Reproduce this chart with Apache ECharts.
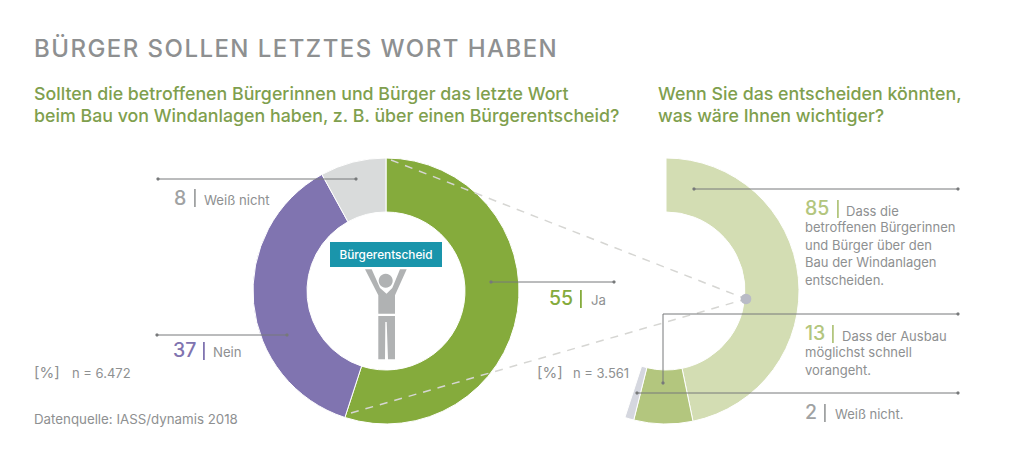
<!DOCTYPE html>
<html><head><meta charset="utf-8">
<style>html,body{margin:0;padding:0;background:#fff}#c{width:1024px;height:456px}
text[style*="24px"]{letter-spacing:1.45px}</style>
<script src="https://cdn.jsdelivr.net/npm/echarts@6/dist/echarts.min.js"></script></head>
<body><div id="c"></div>
<script>
var leftCategories = ['Ja', 'Nein', 'Weiß nicht'];
var leftValues = [55, 37, 8];
var rightCategories = ['Dass die betroffenen Bürgerinnen und Bürger über den Bau der Windanlagen entscheiden.', 'Dass der Ausbau möglichst schnell vorangeht.', 'Weiß nicht.'];
var rightValues = [85, 13, 2];
var leftColors = ['#85AB3C', '#8074B0', '#D9DBDB'];
var rightColors = ['#D3DDB3', '#B3C67E', '#D5D7DF'];
var FONT = 'Inter';
var GREY = '#8E9091', LINE = '#77797A', TXT = '#8E9091', HEAD = '#7F9F4E', PERSON = '#B0B2B3';

function t(x, y, text, size, color, weight) {
  return {type: 'text', z: 20, style: {x: x, y: y, text: text, fontSize: size, fill: color, fontFamily: FONT, fontWeight: weight || 400, textVerticalAlign: 'middle'}};
}
function line(pts) {
  var out = [{type: 'polyline', z: 15, shape: {points: pts}, style: {stroke: LINE, lineWidth: 1, fill: null}}];
  [pts[0], pts[pts.length - 1]].forEach(function (p) {
    out.push({type: 'circle', z: 15, shape: {cx: p[0], cy: p[1], r: 1.6}, style: {fill: LINE}});
  });
  return out;
}
function dash(a, b) {
  return {type: 'line', z: 12, shape: {x1: a[0], y1: a[1], x2: b[0], y2: b[1]}, style: {stroke: '#D6D6D3', lineWidth: 1.5, lineDash: [8, 7]}};
}
function bar(x, y, h, color) {
  return {type: 'rect', z: 20, shape: {x: x, y: y, width: 1.8, height: h}, style: {fill: color}};
}
function poly(pts) {
  return {type: 'polygon', z: 14, shape: {points: pts}, style: {fill: PERSON}};
}
var g = [
  t(34, 48.5, 'BÜRGER SOLLEN LETZTES WORT HABEN', 24, GREY, 500),
  t(34, 93.5, 'Sollten die betroffenen Bürgerinnen und Bürger das letzte Wort', 17.8, HEAD, 500),
  t(34, 115, 'beim Bau von Windanlagen haben, z. B. über einen Bürgerentscheid?', 17.8, HEAD, 500),
  t(658, 93.5, 'Wenn Sie das entscheiden könnten,', 17.8, HEAD, 500),
  t(658, 115, 'was wäre Ihnen wichtiger?', 17.8, HEAD, 500),
  dash([391, 160], [746, 299]),
  dash([351, 413], [746, 299]),
  {type: 'circle', z: 13, shape: {cx: 746, cy: 299, r: 5.3}, style: {fill: '#B9BBC6'}},
  t(174, 198, String(leftValues[2]), 19.5, '#A0A2A3', 500),
  bar(194, 189, 18, '#A0A2A3'),
  t(204, 199.5, leftCategories[2], 13.2, TXT),
  t(173, 350, String(leftValues[1]), 19.5, '#8074B0', 500),
  bar(203, 342, 18, '#8074B0'),
  t(213, 352, leftCategories[1], 13.2, TXT),
  t(549, 298, String(leftValues[0]), 19.5, '#85AB3C', 500),
  bar(580, 290, 18, '#85AB3C'),
  t(591, 300, leftCategories[0], 13.2, TXT),
  t(34, 372, '[%]', 15, TXT),
  t(72, 373, 'n = 6.472', 13, TXT),
  t(537, 372, '[%]', 15, TXT),
  t(573, 373, 'n = 3.561', 13, TXT),
  t(34, 419, 'Datenquelle: IASS/dynamis 2018', 13.3, TXT),
  t(805, 208, String(rightValues[0]), 19.5, '#B3C67E', 500),
  bar(837, 200, 18, '#B3C67E'),
  t(846, 210.5, 'Dass die', 13, TXT),
  t(805, 227, 'betroffenen Bürgerinnen', 13, TXT),
  t(805, 244.5, 'und Bürger über den', 13, TXT),
  t(805, 262, 'Bau der Windanlagen', 13, TXT),
  t(805, 279.5, 'entscheiden.', 13, TXT),
  t(805, 333, String(rightValues[1]), 19.5, '#B3C67E', 500),
  bar(832, 325, 18, '#B3C67E'),
  t(842, 335.5, 'Dass der Ausbau', 13, TXT),
  t(805, 352, 'möglichst schnell', 13, TXT),
  t(805, 369.5, 'vorangeht.', 13, TXT),
  t(805, 412, String(rightValues[2]), 19.5, '#A0A2A3', 500),
  bar(824, 404, 18, '#A0A2A3'),
  t(835, 414, 'Weiß nicht.', 13, TXT),
  {type: 'rect', z: 14, shape: {x: 330, y: 242, width: 112, height: 25}, style: {fill: '#1A95AB'}},
  {type: 'text', z: 20, style: {x: 386, y: 255, text: 'Bürgerentscheid', fontSize: 11.8, fill: '#fff', fontFamily: FONT, fontWeight: 500, textAlign: 'center', textVerticalAlign: 'middle'}},
  {type: 'circle', z: 14, shape: {cx: 385.7, cy: 280.7, r: 7}, style: {fill: PERSON}},
  poly([[365,269.3],[371.7,269.3],[380,288],[386.5,293.7],[392.3,288],[400,269.3],[406.7,269.3],[395,295.3],[395,313.7],[378.3,313.7],[378.3,295.3]]),
  poly([[378.3,316],[395,316],[395,359.3],[388,359.3],[386.7,322],[385.3,322],[385,359.3],[378.3,359.3]])
];
[[[158,179],[356,179]], [[157,335],[287,335]], [[491,282],[614,282]],
 [[694,189],[958,189]], [[663,383],[663,314],[958,314]], [[637,393],[958,393]]].forEach(function (p) { g = g.concat(line(p)); });

function pie(center, values, cats, colors, endAngle) {
  var s = {type: 'pie', center: center, radius: [79, 133], startAngle: 90, clockwise: true, silent: true,
    label: {show: false}, labelLine: {show: false}, animation: false,
    itemStyle: {borderColor: '#fff', borderWidth: 1},
    data: values.map(function (v, i) { return {name: cats[i], value: v, itemStyle: {color: colors[i]}}; })};
  if (endAngle !== undefined) s.endAngle = endAngle;
  return s;
}
var chart = echarts.init(document.getElementById('c'), null, {renderer: 'svg'});
chart.setOption({
  backgroundColor: '#fff',
  animation: false,
  series: [
    pie([386, 291], leftValues, leftCategories, leftColors),
    pie([666, 291], rightValues, rightCategories, rightColors, 90 - leftValues[0] * 3.6)
  ],
  graphic: {elements: g}
});
</script></body></html>
